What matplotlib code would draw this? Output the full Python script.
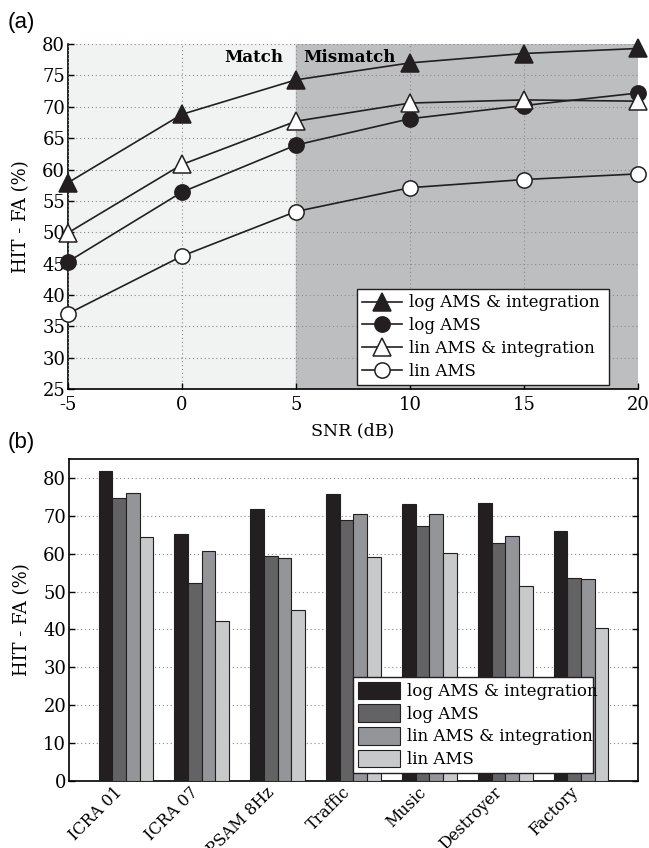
import matplotlib
matplotlib.use("Agg")
import matplotlib.pyplot as plt
import numpy as np

plt.rcParams["font.family"] = ["DejaVu Serif"]
plt.rcParams["axes.unicode_minus"] = False

# panel (a): HIT - FA vs SNR
SNR = [-5, 0, 5, 10, 15, 20]
LOG_AMS_INT = [57.9, 68.8, 74.3, 77.0, 78.5, 79.3]
LOG_AMS = [45.3, 56.4, 63.9, 68.1, 70.2, 72.2]
LIN_AMS_INT = [49.9, 60.8, 67.7, 70.6, 71.1, 70.9]
LIN_AMS = [37.0, 46.2, 53.3, 57.1, 58.4, 59.3]

# panel (b): HIT - FA per noise type
NOISES = ["ICRA 01", "ICRA 07", "PSAM 8Hz", "Traffic", "Music", "Destroyer", "Factory"]
BAR_LOG_AMS_INT = [81.9, 65.1, 71.9, 75.7, 73.2, 73.3, 66.1]
BAR_LOG_AMS = [74.8, 52.2, 59.3, 69.0, 67.2, 62.7, 53.5]
BAR_LIN_AMS_INT = [76.1, 60.6, 58.9, 70.4, 70.5, 64.7, 53.2]
BAR_LIN_AMS = [64.5, 42.3, 45.1, 59.1, 60.1, 51.5, 40.4]

LABELS = ["log AMS & integration", "log AMS", "lin AMS & integration", "lin AMS"]
BAR_COLORS = ["#231f20", "#636366", "#939598", "#c8c9cb"]

fig = plt.figure(figsize=(6.49, 8.48), dpi=100)
ax_a = fig.add_axes([0.1048, 0.5413, 0.8782, 0.4067])
ax_b = fig.add_axes([0.1063, 0.0790, 0.8767, 0.3797])

# ---- panel (a)
ax_a.axvspan(-5, 5, color="#f1f2f2", zorder=0)
ax_a.axvspan(5, 20, color="#bcbec0", zorder=0)
ax_a.grid(True, linestyle=(0, (1, 2.5)), color="#8a8a8a", linewidth=0.8, zorder=1)
ax_a.set_axisbelow(False)

series = [
    (LOG_AMS_INT, "^", "#231f20", 13),
    (LOG_AMS, "o", "#231f20", 11),
    (LIN_AMS_INT, "^", "white", 13),
    (LIN_AMS, "o", "white", 11),
]
for (values, marker, face, size), label in zip(series, LABELS):
    ax_a.plot(SNR, values, color="#231f20", linewidth=1.2, marker=marker,
              markersize=size, markerfacecolor=face, markeredgecolor="#231f20",
              markeredgewidth=1.1, label=label, zorder=3, clip_on=False)

ax_a.set_xlim(-5, 20)
ax_a.set_ylim(25, 80)
ax_a.set_xticks(SNR)
ax_a.set_yticks(np.arange(25, 81, 5))
for side in ("top", "right"):
    ax_a.spines[side].set_visible(False)
for side in ("left", "bottom"):
    ax_a.spines[side].set_linewidth(1.2)
ax_a.tick_params(direction="in", length=4, width=1.0, labelsize=13)
ax_a.tick_params(axis="x", pad=5)
ax_a.tick_params(axis="y", pad=2)
ax_a.set_xlabel("SNR (dB)", fontsize=12.5, labelpad=6)
ax_a.set_ylabel("HIT - FA (%)", fontsize=13)
ax_a.yaxis.set_label_coords(-0.066, 0.5)

ax_a.text(4.45, 77.8, "Match", fontsize=12, fontweight="bold", ha="right", va="center", zorder=4)
ax_a.text(5.3, 77.8, "Mismatch", fontsize=12, fontweight="bold", ha="left", va="center", zorder=4)

leg_a = ax_a.legend(loc="lower left", bbox_to_anchor=(0.507, 0.012, 0.442, 0.29),
                    mode="expand", fontsize=12, frameon=True, fancybox=False,
                    edgecolor="#231f20", framealpha=1, handlelength=2.4,
                    labelspacing=0.35, borderpad=0.3, handletextpad=0.4,
                    borderaxespad=0)
leg_a.get_frame().set_linewidth(1.0)
leg_a.set_zorder(5)

# ---- panel (b)
x = np.arange(len(NOISES))
width = 0.18
bar_series = [BAR_LOG_AMS_INT, BAR_LOG_AMS, BAR_LIN_AMS_INT, BAR_LIN_AMS]
for i, (values, color, label) in enumerate(zip(bar_series, BAR_COLORS, LABELS)):
    ax_b.bar(x + (i - 1.5) * width, values, width, color=color, edgecolor="#231f20",
             linewidth=0.8, label=label, zorder=3)

ax_b.grid(True, axis="y", linestyle=(0, (1, 2.5)), color="#8a8a8a", linewidth=0.8, zorder=1)
ax_b.set_xlim(-0.75, 6.75)
ax_b.set_ylim(0, 85)
ax_b.set_yticks(np.arange(0, 81, 10))
ax_b.set_xticks(x)
ax_b.set_xticklabels(NOISES, rotation=45, ha="right", va="top")
for side in ax_b.spines.values():
    side.set_linewidth(1.2)
ax_b.tick_params(axis="y", direction="in", length=4, width=1.0, labelsize=13,
                 right=True, pad=2)
ax_b.tick_params(axis="x", length=0, labelsize=11.5, pad=2)
ax_b.set_ylabel("HIT - FA (%)", fontsize=13)
ax_b.yaxis.set_label_coords(-0.066, 0.5)

leg_b = ax_b.legend(loc="lower left", bbox_to_anchor=(0.50, 0.025, 0.421, 0.31),
                    mode="expand", fontsize=12, frameon=True, fancybox=False,
                    edgecolor="#231f20", framealpha=1, handlelength=2.5,
                    handleheight=1.25, labelspacing=0.25, borderpad=0.3,
                    handletextpad=0.4, borderaxespad=0)
leg_b.get_frame().set_linewidth(1.0)
leg_b.set_zorder(5)

fig.text(0.012, 0.973, "(a)", family="Liberation Sans", fontsize=16, va="center")
fig.text(0.012, 0.478, "(b)", family="Liberation Sans", fontsize=16, va="center")

fig.savefig("out.png", dpi=100)
